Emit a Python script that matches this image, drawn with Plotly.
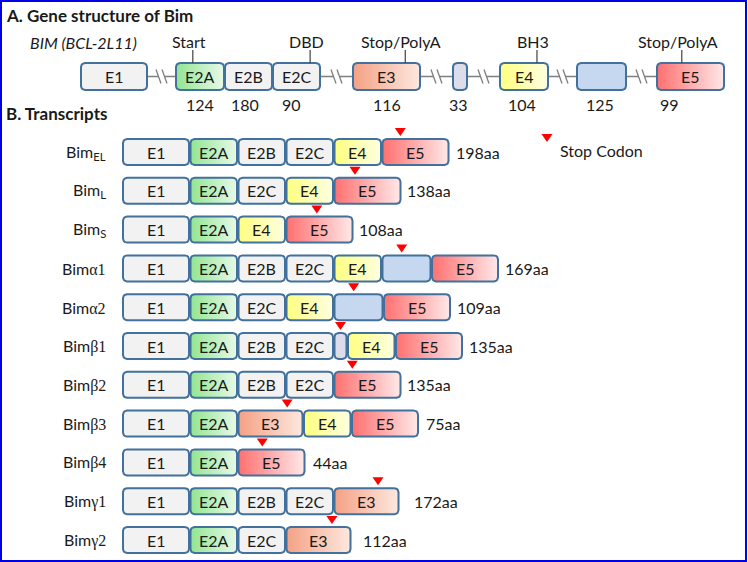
import plotly.graph_objects as go

# ---------------- data ----------------
gene_exons = ["E1", "E2A", "E2B", "E2C", "E3", "Ex", "E4", "Ey", "E5"]
gene_exon_labels = ["E1", "E2A", "E2B", "E2C", "E3", "", "E4", "", "E5"]
gene_exon_sizes = ["", "124", "180", "90", "116", "33", "104", "125", "99"]
gene_features = ["Start", "DBD", "Stop/PolyA", "BH3", "Stop/PolyA"]
gene_feature_exon = [1, 3, 4, 6, 8]

transcripts = ["Bim<sub>EL</sub>", "Bim<sub>L</sub>", "Bim<sub>S</sub>",
               "Bim<span style='font-family:Liberation Serif'>α1</span>",
               "Bim<span style='font-family:Liberation Serif'>α2</span>",
               "Bim<span style='font-family:Liberation Serif'>β1</span>",
               "Bim<span style='font-family:Liberation Serif'>β2</span>",
               "Bim<span style='font-family:Liberation Serif'>β3</span>",
               "Bim<span style='font-family:Liberation Serif'>β4</span>",
               "Bim<span style='font-family:Liberation Serif'>γ1</span>",
               "Bim<span style='font-family:Liberation Serif'>γ2</span>"]
transcript_exons = [
    ["E1", "E2A", "E2B", "E2C", "E4", "E5"],
    ["E1", "E2A", "E2C", "E4", "E5"],
    ["E1", "E2A", "E4", "E5"],
    ["E1", "E2A", "E2B", "E2C", "E4", "Ey", "E5"],
    ["E1", "E2A", "E2C", "E4", "Ey", "E5"],
    ["E1", "E2A", "E2B", "E2C", "Ex", "E4", "E5"],
    ["E1", "E2A", "E2B", "E2C", "E5"],
    ["E1", "E2A", "E3", "E4", "E5"],
    ["E1", "E2A", "E5"],
    ["E1", "E2A", "E2B", "E2C", "E3"],
    ["E1", "E2A", "E2C", "E3"],
]
transcript_lengths = [198, 138, 108, 169, 109, 135, 135, 75, 44, 172, 112]
stop_exon_index = [5, 4, 3, 5, 4, 4, 4, 2, 2, 4, 3]
stop_exon_frac = [0.27, 0.31, 0.46, 0.40, 0.40, 0.5, 0.27, 0.76, 0.36, 0.68, 0.71]
legend_text = "Stop Codon"

# ---------------- layout / style ----------------
W, H = 748, 562
FONT = "Lato"
TXT = "#1a1a1a"
BORDER = "#41719c"
CONNECT = "#7f7f7f"
STOP_RED = "#ff0000"

styles = {
    "E1": ("solid", "#f2f2f2"),
    "E2B": ("solid", "#f2f2f2"),
    "E2C": ("solid", "#f2f2f2"),
    "Ex": ("solid", "#dcdcea"),
    "Ey": ("solid", "#c5d8f0"),
    "E2A": ("grad", ["#92e592", "#e8f9e8"]),
    "E3": ("grad", ["#f4a184", "#fde8df"]),
    "E4": ("grad", ["#ffff80", "#ffffe2"]),
    "E5": ("grad", ["#ff7070", "#ffe8e8"]),
}

gene_x_start = 81
gene_widths = [66, 48, 47, 47, 67, 14, 48, 49, 67]
gene_gap_before = [0, 29, 1, 1, 33, 33, 33, 29, 31]
gene_y0, gene_y1 = 63, 90
feature_frac = [0.35, 0.79, 0.78, 0.77, 0.37]
size_frac = [0.5, 0.5, 0.43, 0.4, 0.5, 0.4, 0.46, 0.47, 0.19]

tx_x_start = 123
tx_widths = {"E1": 66, "E2A": 46.5, "E2B": 46.5, "E2C": 46.5, "E4": 46.5,
             "Ey": 48, "Ex": 12, "E5": 66, "E3": 64}
tx_gap = 1.5
row_y_first, row_pitch = 152, 38.8
box_h = 26
label_gap = [5, 4, 4, 5, 5, 5, 4, 6, 6, 13, 10]

fig = go.Figure()
shapes = []
annotations = []


def rrect(x0, x1, y0, y1, r=4, n=5):
    import math
    xs, ys = [], []
    corners = [(x1 - r, y0 + r, -90, 0), (x1 - r, y1 - r, 0, 90),
               (x0 + r, y1 - r, 90, 180), (x0 + r, y0 + r, 180, 270)]
    for cx, cy, a0, a1 in corners:
        for k in range(n + 1):
            a = math.radians(a0 + (a1 - a0) * k / n)
            xs.append(cx + r * math.cos(a))
            ys.append(cy + r * math.sin(a))
    xs.append(xs[0]); ys.append(ys[0])
    return xs, ys


def add_box(key, x0, x1, y0, y1, label):
    xs, ys = rrect(x0, x1, y0, y1)
    kind, col = styles[key]
    kw = dict(x=xs, y=ys, mode="lines", fill="toself",
              line=dict(color=BORDER, width=2), hoverinfo="skip", showlegend=False)
    if kind == "solid":
        kw["fillcolor"] = col
    else:
        kw["fillcolor"] = col[0]
        kw["fillgradient"] = dict(type="horizontal",
                                  colorscale=[[0, col[0]], [1, col[1]]])
    fig.add_trace(go.Scatter(**kw))
    if label:
        annotations.append(dict(x=(x0 + x1) / 2, y=(y0 + y1) / 2, text=label,
                                showarrow=False, xanchor="center", yanchor="middle",
                                font=dict(family=FONT, size=16, color=TXT)))


def add_text(x, y, text, anchor="center", size=16, bold=False, italic=False):
    t = text
    if bold:
        t = "<b>" + t + "</b>"
    if italic:
        t = "<i>" + t + "</i>"
    annotations.append(dict(x=x, y=y, text=t, showarrow=False, xanchor=anchor,
                            yanchor="middle", font=dict(family=FONT, size=size, color=TXT)))


# ---------------- A. gene structure ----------------
add_text(4, 15, "A. Gene structure of Bim", anchor="left", bold=True, size=17)
add_text(28, 42, "BIM (BCL-2L11)", anchor="left", italic=True)

gx = []
cur = gene_x_start
for w, g in zip(gene_widths, gene_gap_before):
    cur += g
    gx.append((cur, cur + w))
    cur += w
gy_mid = (gene_y0 + gene_y1) / 2

# connectors with break marks
for i in range(1, len(gx)):
    a, b = gx[i - 1][1], gx[i][0]
    if b - a > 5:
        c = (a + b) / 2
        shapes.append(dict(type="line", x0=a, x1=c - 3, y0=gy_mid, y1=gy_mid,
                           line=dict(color=CONNECT, width=1.5), layer="below"))
        shapes.append(dict(type="line", x0=c + 3, x1=b, y0=gy_mid, y1=gy_mid,
                           line=dict(color=CONNECT, width=1.5), layer="below"))
        for dx in (-3, 3):
            shapes.append(dict(type="line", x0=c + dx - 2.5, x1=c + dx + 2.5,
                               y0=gy_mid - 7, y1=gy_mid + 7,
                               line=dict(color=CONNECT, width=1.3), layer="below"))

for i, key in enumerate(gene_exons):
    x0, x1 = gx[i]
    add_box(key, x0, x1, gene_y0, gene_y1, gene_exon_labels[i])
    if gene_exon_sizes[i]:
        add_text(x0 + (x1 - x0) * size_frac[i], 104, gene_exon_sizes[i])

for name, ei, fr in zip(gene_features, gene_feature_exon, feature_frac):
    x0, x1 = gx[ei]
    xl = x0 + (x1 - x0) * fr
    shapes.append(dict(type="line", x0=xl, x1=xl, y0=50, y1=gene_y0,
                       line=dict(color="#404040", width=1.2)))
    add_text(xl - 4, 41, name)

# ---------------- B. transcripts ----------------
add_text(4, 113, "B. Transcripts", anchor="left", bold=True, size=17)

for r, (name, exons) in enumerate(zip(transcripts, transcript_exons)):
    yc = row_y_first + r * row_pitch
    y0, y1 = yc - box_h / 2, yc + box_h / 2
    cur = tx_x_start
    pos = []
    for key in exons:
        w = tx_widths[key]
        pos.append((cur, cur + w))
        add_box(key, cur, cur + w, y0, y1, "" if key in ("Ex", "Ey") else key)
        cur += w + tx_gap
    end = pos[-1][1]
    add_text(108, yc, name, anchor="right")
    add_text(end + label_gap[r], yc, f"{transcript_lengths[r]}aa", anchor="left")
    sx0, sx1 = pos[stop_exon_index[r]]
    sx = sx0 + (sx1 - sx0) * stop_exon_frac[r]
    shapes.append(dict(type="path",
                       path=f"M{sx-5.5},{y0-11} L{sx+5.5},{y0-11} L{sx},{y0-3} Z",
                       fillcolor=STOP_RED, line=dict(width=0)))

# legend
lx, ly = 547, 138
shapes.append(dict(type="path", path=f"M{lx-5.5},{ly-4} L{lx+5.5},{ly-4} L{lx},{ly+4} Z",
                   fillcolor=STOP_RED, line=dict(width=0)))
add_text(558, 150, legend_text, anchor="left")

# frame
shapes.append(dict(type="rect", x0=1, x1=746, y0=1, y1=561,
                   line=dict(color="#0000e6", width=2)))

fig.update_layout(
    width=W, height=H, margin=dict(l=0, r=0, t=0, b=0),
    paper_bgcolor="white", plot_bgcolor="white",
    xaxis=dict(range=[0, W], visible=False, fixedrange=True),
    yaxis=dict(range=[H, 0], visible=False, fixedrange=True),
    shapes=shapes, annotations=annotations, showlegend=False,
)
fig.write_html("out.html", config={"displayModeBar": False},
               post_script="document.body.style.margin='0';"
                           "document.body.style.overflow='hidden';")
